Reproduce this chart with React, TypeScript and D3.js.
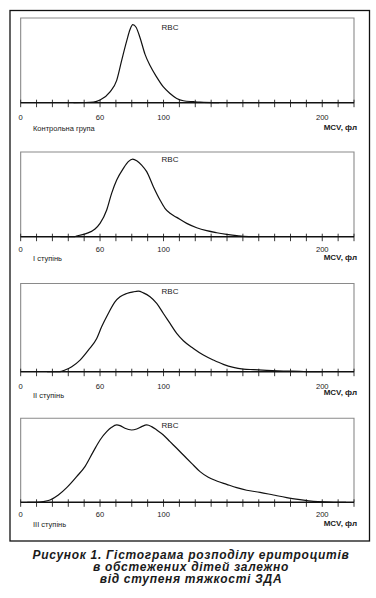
import React from "react";
import * as d3 from "d3";

// ---- Data ----
const panelLabels = ["Контрольна група", "І ступінь", "ІІ ступінь", "ІІІ ступінь"];
const seriesName = "RBC";
const axisTitle = "MCV, фл";
const tickLabelValues = [0, 60, 100, 200];
// MCV (fL) values for each curve
const mcv0 = [40, 55, 60, 66.3, 70.5, 73.6, 76.8, 78.9, 80.6, 82.7, 85.2, 88.3, 91.5, 95.7, 99.9, 104.1, 108.3, 112.5, 118.8, 123, 135];
const cnt0 = [0, 0.8, 3.1, 12.8, 26.4, 49.6, 72.9, 86.4, 92.2, 89.1, 76.7, 57.4, 43.8, 30.2, 18.6, 10.9, 5.0, 2.3, 1.2, 0.6, 0];
const mcv1 = [30, 41, 42.3, 49.9, 56.2, 60, 64.2, 67.3, 70.5, 74.7, 77.8, 80.6, 83.1, 86.2, 89.4, 93.6, 97.8, 100.9, 104.1, 108.3, 114.6, 120.9, 127.2, 133.5, 139.8, 146.1, 150.3, 160];
const cnt1 = [0, 0, 0.8, 3.9, 9.1, 15.7, 31.5, 51.2, 66.9, 80.7, 88.6, 91.7, 89.8, 84.6, 76.8, 59.1, 43.3, 33.5, 27.6, 22.8, 15.7, 10.6, 7.1, 4.7, 2.8, 1.2, 0.4, 0];
const mcv2 = [20, 29.7, 33.5, 38.6, 44.9, 51.2, 57.5, 61, 65.2, 69.4, 72.6, 76.8, 81, 84.1, 87.3, 91.5, 95.7, 99.9, 104.1, 108.3, 112.5, 118.8, 125.1, 131.4, 137.7, 144, 150.3, 156.6, 165, 175.5, 186, 192.3, 200];
const cnt2 = [0, 0, 1.9, 5.7, 13.2, 24.5, 37.7, 50.9, 66.0, 79.2, 84.9, 88.7, 90.6, 91.3, 89.4, 84.9, 77.4, 66.0, 54.7, 43.4, 35.1, 26.4, 18.9, 13.2, 8.3, 4.9, 3.0, 2.3, 1.5, 0.8, 0.4, 0, 0];
const mcv3 = [5, 12.1, 17.1, 22.2, 28.5, 34.8, 42.3, 48.6, 54.9, 60, 64.2, 67.3, 70.5, 72.6, 75.7, 79.9, 83.1, 86.2, 89.4, 92.5, 95.7, 99.9, 104.1, 108.3, 112.5, 117.7, 123, 128.2, 133.5, 139.8, 146.1, 152.4, 160.8, 169.2, 177.6, 186, 194.4, 200.7, 207, 215];
const cnt3 = [0, 0, 0.8, 2.8, 8.7, 17.5, 30.6, 42.5, 60.3, 74.2, 84.1, 89.3, 92.1, 91.3, 88.1, 86.1, 87.3, 90.1, 92.1, 90.1, 86.1, 80.2, 72.2, 64.3, 56.3, 46.4, 36.5, 29.8, 25.4, 21.4, 17.5, 14.3, 11.9, 8.7, 5.6, 3.2, 1.2, 0.4, 0, 0];
const curvesX = [mcv0, mcv1, mcv2, mcv3];
const curvesY = [cnt0, cnt1, cnt2, cnt3];
const captionLines = [
  "Рисунок 1. Гістограма розподілу еритроцитів",
  "в обстежених дітей залежно",
  "від ступеня тяжкості ЗДА",
];

// ---- Layout ----
const W = 376;
const H = 598;
const plotLeft = 20.67;
const plotRight = 354;
const nIntervals = 21;
const step = (plotRight - plotLeft) / nIntervals;
// axis positions (tick index) of the MCV breakpoints
const breakIdx = [0, 5, 9, 19, 21];
const breakVal = [0, 60, 100, 200, 220];
const panelTop = [18, 152, 283.5, 418.3];
const panelBase = [102.7, 236.7, 371.7, 502.3];
const tickDy = [17, 15, 17.7, 14.4];
const labelDy = [28, 24.7, 26.7, 24.4];
const mcvDy = [27.5, 23.7, 23.5, 23.7];
const rbcDy = [11.8, 9.8, 10.2, 9.8];

const FONT = "'Liberation Sans', Arial, sans-serif";

export default function App() {
  const x = d3
    .scaleLinear()
    .domain(breakVal)
    .range(breakIdx.map((i) => plotLeft + i * step));
  const ticks = d3.range(nIntervals + 1).map((i) => plotLeft + i * step);

  return (
    <svg
      width={W}
      height={H}
      style={{ position: "absolute", left: 0, top: 0, background: "#fff" }}
      fontFamily={FONT}
    >
      <rect x={10} y={10.5} width={359.5} height={530.5} fill="none" stroke="#111" strokeWidth={1.3} />
      {panelLabels.map((lab, p) => {
        const y = d3.scaleLinear().domain([0, 100]).range([panelBase[p], panelTop[p]]);
        const data = curvesX[p].map((v, k) => [v, curvesY[p][k]] as [number, number]);
        const line = d3
          .line<[number, number]>()
          .x((d) => x(d[0]))
          .y((d) => y(d[1]))
          .curve(d3.curveMonotoneX);
        return (
          <g key={p}>
            <path
              d={`M${plotLeft},${panelBase[p]}V${panelTop[p]}H${plotRight}V${panelBase[p]}`}
              fill="none"
              stroke="#8a8a8a"
              strokeWidth={1.1}
            />
            {ticks.map((t, i) => (
              <line key={i} x1={t} x2={t} y1={panelBase[p] - 3} y2={panelBase[p] + 4.5} stroke="#222" strokeWidth={0.9} />
            ))}
            <line x1={plotLeft} x2={plotRight} y1={panelBase[p]} y2={panelBase[p]} stroke="#111" strokeWidth={1.6} />
            <path d={line(data) || ""} fill="none" stroke="#111" strokeWidth={1.2} />
            <text x={170} y={panelTop[p] + rbcDy[p]} fontSize={8} textAnchor="middle" fill="#1a1a1a">
              {seriesName}
            </text>
            {tickLabelValues.map((v) => (
              <text key={v} x={x(v)} y={panelBase[p] + tickDy[p]} fontSize={7.6} textAnchor="middle" fill="#1a1a1a">
                {v}
              </text>
            ))}
            <text x={33} y={panelBase[p] + labelDy[p]} fontSize={7.5} fill="#1a1a1a">
              {lab}
            </text>
            <text x={357} y={panelBase[p] + mcvDy[p]} fontSize={8} fontWeight="bold" textAnchor="end" fill="#1a1a1a">
              {axisTitle}
            </text>
          </g>
        );
      })}
      {captionLines.map((c, i) => (
        <text
          key={i}
          x={191}
          y={558.6 + i * 12}
          fontSize={12}
          letterSpacing={0.7}
          fontWeight="bold"
          fontStyle="italic"
          textAnchor="middle"
          fill="#1a1a1a"
        >
          {c}
        </text>
      ))}
    </svg>
  );
}
